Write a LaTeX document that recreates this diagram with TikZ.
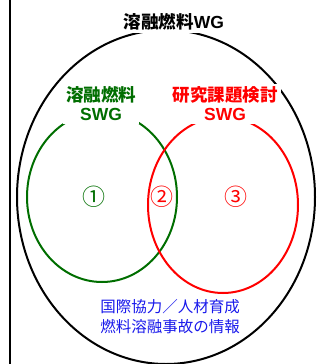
\documentclass[tikz,border=0pt]{standalone}
\usepackage{fontspec}
\setmainfont{Liberation Sans}
\newfontfamily\cjk{Noto Sans CJK JP}
\definecolor{dgreen}{RGB}{0,110,0}
\definecolor{myred}{RGB}{255,0,0}
\definecolor{myblue}{RGB}{25,25,235}
\tikzset{
  lbl/.style={fill=white, inner sep=3pt, align=center, font=\fontsize{17.5}{19}\selectfont\bfseries},
  num/.style={inner sep=0pt, font=\cjk\fontsize{23}{23}\selectfont},
  ring/.style={line width=2pt},
}
\begin{document}
\begin{tikzpicture}[x=1pt,y=-1pt]
\useasboundingbox (0,0) rectangle (320,364);
\draw[line width=1.6pt] (10,0) coordinate (lt) -- (10,364) coordinate (lb);
\draw[ring] (166,197) ellipse [x radius=149pt, y radius=167pt];
\draw[ring, dgreen] (102,197) ellipse [x radius=75pt, y radius=85pt];
\draw[ring, myred] (223,205) ellipse [x radius=75pt, y radius=88pt];
\node[lbl] (wg) at (174,22) {{\cjk\bfseries 溶融燃料}WG};
\node[lbl, text=dgreen] (swg1) at (101,104) {{\cjk\bfseries 溶融燃料}\\SWG};
\node[lbl, text=myred] (swg2) at (225,104) {{\cjk\bfseries 研究課題検討}\\SWG};
\node[num, text=dgreen] (n1) at (94,197) {①};
\node[num, text=myred] (n2) at (162,197) {②};
\node[num, text=myred] (n3) at (236,197) {③};
\node[inner sep=0pt, align=center, text=myblue, font=\cjk\fontsize{15.5}{20}\selectfont] (info) at (170,317) {国際協力／人材育成\\燃料溶融事故の情報};
\end{tikzpicture}
\end{document}
